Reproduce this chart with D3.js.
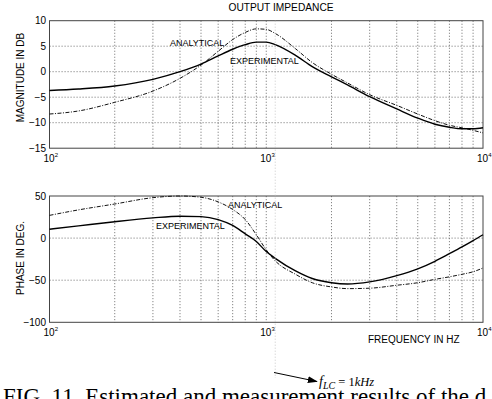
<!DOCTYPE html>
<html><head><meta charset="utf-8">
<script src="https://cdn.jsdelivr.net/npm/d3@7"></script>
<style>body{margin:0;background:#fff}svg{display:block}</style>
</head><body><svg id="c" width="492" height="399"></svg>
<script>
// ---- data ----
const freqs = [100,136,200,300,400,500,600,700,800,900,1000,1100,1365,1630,2000,2370,3000,4000,5000,6000,7000,8000,9000,10000];
const magExperimental = [-3.7,-3.4,-2.8,-1.5,0.0,1.5,3.1,4.4,5.3,5.8,5.8,5.3,3.2,1.0,-1.0,-2.6,-4.9,-7.3,-9.1,-10.3,-10.9,-11.2,-11.2,-11.0];
const magAnalytical   = [-8.3,-7.7,-6.0,-3.8,-1.3,1.3,4.0,6.3,7.7,8.4,8.3,7.5,4.5,1.8,-0.5,-2.2,-4.5,-6.6,-8.3,-9.6,-10.5,-11.0,-11.5,-12.0];
const phExperimental  = [10.5,14.5,19.5,24,26,25.5,22,15,5,-4,-16,-24,-39,-48,-53,-54.5,-52,-44.5,-36.5,-27.5,-18.5,-10.5,-3,4];
const phAnalytical    = [27,33.5,40.5,48,50,48.5,43,34,22,4,-14,-27,-43,-53,-58,-60,-59.5,-56,-53,-49,-46,-43,-40,-35.5];
const magTicks = [10,5,0,-5,-10,-15];
const phTicks = [50,0,-50,-100];
const decadeTicks = [100,1000,10000];
const gridFreqs = [200,300,400,500,600,700,800,900,1000,2000,3000,4000,5000,6000,7000,8000,9000];
const fLCmark = 1100;

const svg = d3.select("#c");
const FONT = "'Liberation Sans', Arial, sans-serif";
const x = d3.scaleLog().domain([100,10000]).range([49.5,483]);
const yTop = d3.scaleLinear().domain([-15,10]).range([148.2,20.7]);
const yBot = d3.scaleLinear().domain([-100,50]).range([322.3,196]);

function panel(y, ticks, expV, anV){
  const g = svg.append("g");
  const [y0,y1] = y.range();
  g.selectAll(".vg").data(gridFreqs).join("line")
    .attr("x1",d=>x(d)).attr("x2",d=>x(d)).attr("y1",y1).attr("y2",y0)
    .attr("stroke","#666").attr("stroke-width",0.8).attr("stroke-dasharray","1.2,1.8");
  g.selectAll(".hg").data(ticks.filter(t=>t>y.domain()[0] && t<y.domain()[1])).join("line")
    .attr("x1",x.range()[0]).attr("x2",x.range()[1]).attr("y1",d=>y(d)).attr("y2",d=>y(d))
    .attr("stroke","#666").attr("stroke-width",0.8).attr("stroke-dasharray","1.2,1.8");
  g.append("rect").attr("x",x.range()[0]).attr("y",y1).attr("width",x.range()[1]-x.range()[0]).attr("height",y0-y1)
    .attr("fill","none").attr("stroke","#444").attr("stroke-width",1);
  const ax = d3.axisLeft(y).tickValues(ticks).tickSize(0).tickPadding(3.5).tickFormat(d3.format("d"));
  const ga = g.append("g").attr("transform",`translate(${x.range()[0]},0)`).call(ax);
  ga.select(".domain").remove();
  ga.selectAll("text").attr("font-family",FONT).attr("font-size",10).attr("fill","#000");
  const xl = g.selectAll(".xl").data(decadeTicks).join("text")
    .attr("x",d=>x(d)-6).attr("y",y0+14).attr("font-family",FONT).attr("font-size",10).attr("fill","#000");
  xl.append("tspan").text("10");
  xl.append("tspan").attr("dy",-5).attr("font-size",6).text(d=>Math.round(Math.log10(d)));
  const line = vals => d3.line().x((d,i)=>x(freqs[i])).y(d=>y(d)).curve(d3.curveMonotoneX)(vals);
  g.append("path").attr("d",line(anV)).attr("fill","none").attr("stroke","#111").attr("stroke-width",1)
    .attr("stroke-dasharray","4,1.5,1,1.5");
  g.append("path").attr("d",line(expV)).attr("fill","none").attr("stroke","#000").attr("stroke-width",1.4);
  return g;
}
panel(yTop, magTicks, magExperimental, magAnalytical);
panel(yBot, phTicks, phExperimental, phAnalytical);

svg.append("line").attr("x1",x(fLCmark)).attr("x2",x(fLCmark)).attr("y1",yTop.range()[1]).attr("y2",378)
  .attr("stroke","#bbb").attr("stroke-width",0.8).attr("stroke-dasharray","1,2");

function txt(s,xx,yy,size,opts={}){
  const t = svg.append("text").attr("x",xx).attr("y",yy).attr("font-family",opts.family||FONT)
    .attr("font-size",size).attr("fill","#000").text(s);
  if(opts.anchor) t.attr("text-anchor",opts.anchor);
  if(opts.rotate) t.attr("transform",`rotate(-90,${xx},${yy})`);
  return t;
}
txt("OUTPUT IMPEDANCE",281,11,10.2,{anchor:"middle"});
txt("MAGNITUDE IN DB",24,77.5,10,{anchor:"middle",rotate:true});
txt("PHASE IN DEG.",24,258,10,{anchor:"middle",rotate:true});
txt("FREQUENCY IN HZ",368,342.5,10);
txt("ANALYTICAL",170,45.5,9);
txt("EXPERIMENTAL",230,64.3,9);
txt("ANALYTICAL",228,208,9);
txt("EXPERIMENTAL",156,229,9);

svg.append("defs").append("marker").attr("id","ah").attr("viewBox","0 0 12 8").attr("refX",11).attr("refY",4)
  .attr("markerWidth",10).attr("markerHeight",7).attr("markerUnits","userSpaceOnUse").attr("orient","auto")
  .append("path").attr("d","M0,0L12,4L0,8Z").attr("fill","#000");
svg.append("line").attr("x1",274).attr("y1",372.5).attr("x2",317).attr("y2",381.5)
  .attr("stroke","#000").attr("stroke-width",1).attr("marker-end","url(#ah)");
const SERIF = "'Liberation Serif','Times New Roman',serif";
const ft = svg.append("text").attr("x",319).attr("y",386).attr("font-family",SERIF).attr("font-size",14).attr("fill","#000");
ft.append("tspan").attr("font-style","italic").text("f");
ft.append("tspan").attr("font-style","italic").attr("font-size",10).attr("dy",3).text("LC");
ft.append("tspan").attr("dy",-3).attr("font-size",12.5).text(" = 1");
ft.append("tspan").attr("font-style","italic").attr("font-size",12.5).text("kHz");

txt("FIG. 11. Estimated and measurement results of the d",3,404,23,{family:SERIF});
</script></body></html>
